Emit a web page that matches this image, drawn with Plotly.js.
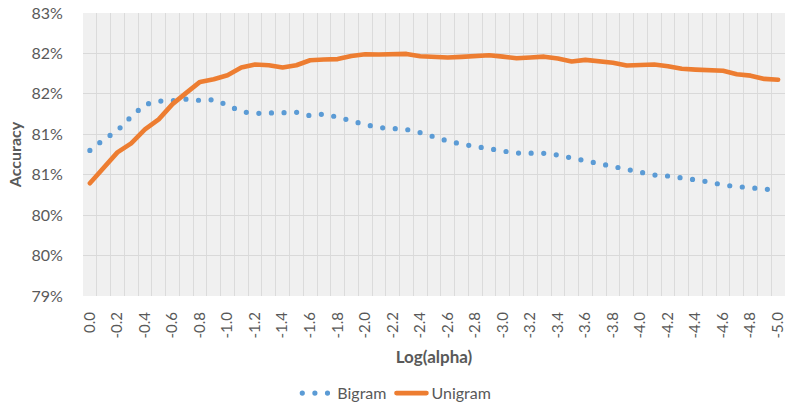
<!DOCTYPE html>
<html><head><meta charset="utf-8">
<script src="https://cdn.plot.ly/plotly-3.0.1.min.js"></script>
<style>
html,body{margin:0;padding:0;background:#fff}
#chart{width:789px;height:410px}
.scatterlayer .js-line,.legendlines path{stroke-linecap:round;stroke-linejoin:round}
</style></head><body><div id="chart"></div>
<script>
const logAlpha = [0.0,-0.1,-0.2,-0.3,-0.4,-0.5,-0.6,-0.7,-0.8,-0.9,-1.0,-1.1,-1.2,-1.3,-1.4,-1.5,-1.6,-1.7,-1.8,-1.9,-2.0,-2.1,-2.2,-2.3,-2.4,-2.5,-2.6,-2.7,-2.8,-2.9,-3.0,-3.1,-3.2,-3.3,-3.4,-3.5,-3.6,-3.7,-3.8,-3.9,-4.0,-4.1,-4.2,-4.3,-4.4,-4.5,-4.6,-4.7,-4.8,-4.9,-5.0];
const bigram = [80.80,80.935,81.046,81.218,81.367,81.41,81.416,81.435,81.419,81.428,81.36,81.28,81.258,81.258,81.264,81.272,81.23,81.25,81.212,81.163,81.12,81.083,81.073,81.06,81.021,80.965,80.916,80.879,80.846,80.817,80.793,80.768,80.764,80.764,80.743,80.706,80.675,80.644,80.61,80.567,80.527,80.496,80.484,80.465,80.437,80.41,80.373,80.354,80.34,80.324,80.307];
const unigram = [80.394,80.579,80.776,80.888,81.06,81.184,81.373,81.512,81.648,81.681,81.731,81.826,81.863,81.854,81.826,81.854,81.916,81.925,81.93,81.969,81.99,81.986,81.994,81.994,81.965,81.953,81.949,81.957,81.965,81.978,81.96,81.94,81.949,81.96,81.937,81.90,81.92,81.907,81.885,81.85,81.86,81.863,81.842,81.81,81.80,81.793,81.786,81.743,81.725,81.685,81.675];
const xTickVals = [0,-0.2,-0.4,-0.6,-0.8,-1.0,-1.2,-1.4,-1.6,-1.8,-2.0,-2.2,-2.4,-2.6,-2.8,-3.0,-3.2,-3.4,-3.6,-3.8,-4.0,-4.2,-4.4,-4.6,-4.8,-5.0];
const xTickLabels = ["0.0","-0.2","-0.4","-0.6","-0.8","-1.0","-1.2","-1.4","-1.6","-1.8","-2.0","-2.2","-2.4","-2.6","-2.8","-3.0","-3.2","-3.4","-3.6","-3.8","-4.0","-4.2","-4.4","-4.6","-4.8","-5.0"];
const yTickVals = [79,79.5,80,80.5,81,81.5,82,82.5];
const yTickLabels = ["79%","80%","80%","81%","81%","82%","82%","83%"];

const gridX = [];
for (let k = 0; k <= logAlpha.length; k++) gridX.push(0.05 - 0.1 * k);

const FONT = 'Lato, "Open Sans", sans-serif';
const GRAY = '#595959';

const traces = [
  {x: logAlpha, y: bigram, name: 'Bigram', type: 'scatter', mode: 'lines',
   line: {color: '#5B9BD5', width: 5.2, dash: '0px,12.6px'}},
  {x: logAlpha, y: unigram, name: 'Unigram', type: 'scatter', mode: 'lines',
   line: {color: '#ED7D31', width: 4.6}}
];

const layout = {
  width: 789, height: 410,
  margin: {l: 83, r: 4, t: 13, b: 114, autoexpand: false},
  paper_bgcolor: '#ffffff',
  plot_bgcolor: '#f0f0f0',
  font: {family: FONT, color: GRAY, size: 15},
  showlegend: true,
  legend: {orientation: 'h', x: 0.447, xanchor: 'center', yref: 'container', y: 0.041, yanchor: 'middle',
           font: {family: FONT, size: 16, color: GRAY}, traceorder: 'normal', itemwidth: 30},
  xaxis: {
    range: [0.05, -5.05], autorange: false,
    tickmode: 'array', tickvals: xTickVals, ticktext: xTickLabels,
    tickangle: -90, ticks: 'outside', ticklen: 9, tickcolor: 'rgba(0,0,0,0)',
    tickfont: {family: FONT, size: 15, color: GRAY},
    showgrid: false, zeroline: false, showline: false,
    minor: {tickmode: 'array', tickvals: gridX, showgrid: true, gridcolor: '#dbdbdb', gridwidth: 1, ticks: ''},
    title: {text: 'Log(alpha)', font: {family: FONT, size: 17, color: GRAY, weight: 700}, standoff: 13},
    automargin: false
  },
  yaxis: {
    range: [79, 82.5], autorange: false,
    tickmode: 'array', tickvals: yTickVals, ticktext: yTickLabels,
    ticks: 'outside', ticklen: 16, tickcolor: 'rgba(0,0,0,0)',
    tickfont: {family: FONT, size: 16, color: GRAY},
    showgrid: true, gridcolor: '#d9d9d9', gridwidth: 1,
    zeroline: false, showline: false,
    title: {text: 'Accuracy', font: {family: FONT, size: 16, color: GRAY, weight: 700}, standoff: 5},
    automargin: false
  }
};

Plotly.newPlot('chart', traces, layout, {displayModeBar: false, staticPlot: true});
</script></body></html>
